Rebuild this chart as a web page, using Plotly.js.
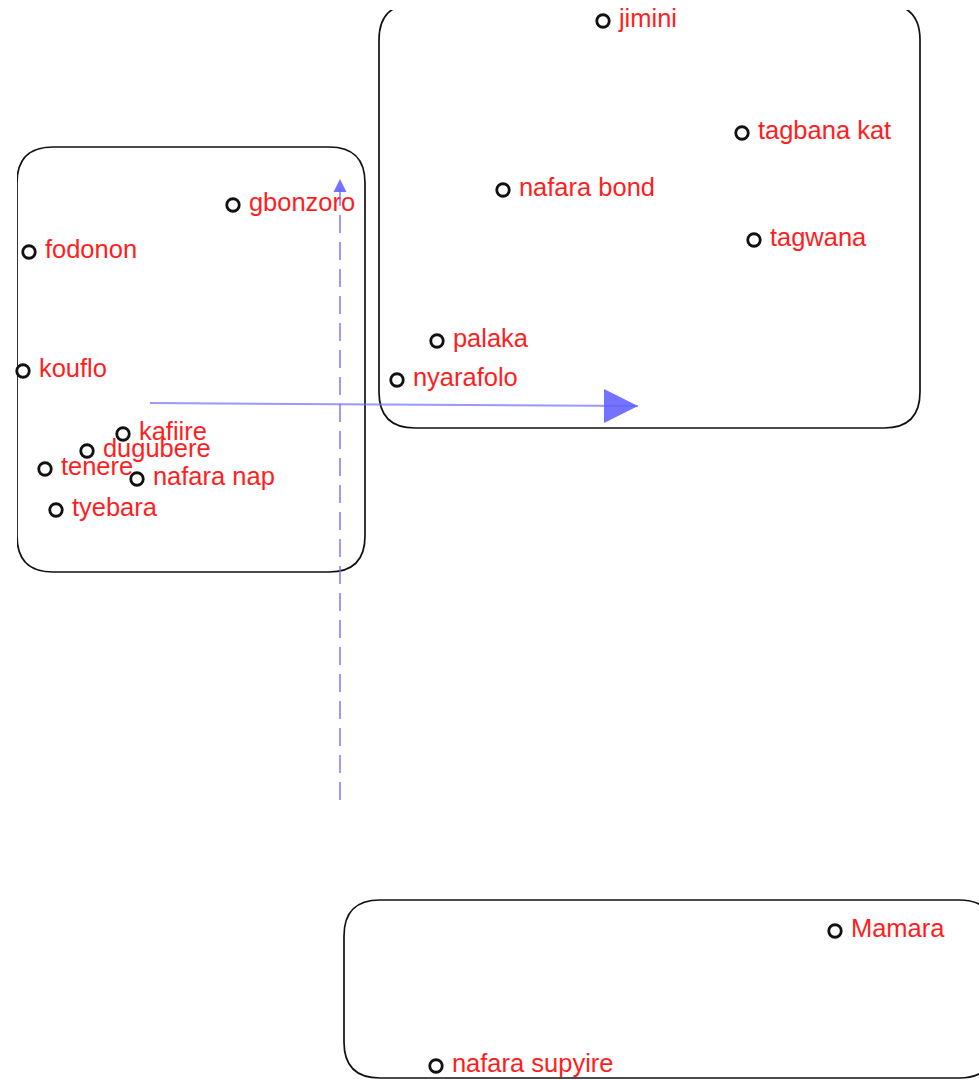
<!DOCTYPE html>
<html>
<head>
<meta charset="utf-8">
<script src="https://cdn.plot.ly/plotly-3.0.1.min.js"></script>
<style>
  body { margin: 0; background: #fff; }
  #chart { width: 979px; height: 1080px; }
</style>
</head>
<body>
<div id="chart"></div>
<script>
// point labels and positions
var names = ['jimini', 'tagbana kat', 'nafara bond', 'tagwana', 'palaka', 'nyarafolo',
  'gbonzoro', 'fodonon', 'kouflo', 'kafiire', 'dugubere', 'tenere', 'nafara nap', 'tyebara',
  'Mamara', 'nafara supyire'];
var xs = [603, 742, 503, 754, 437, 397, 233, 29, 23, 123, 87, 45, 137, 56, 835, 436];
var ys = [21, 133, 190, 240, 341, 380, 205, 252, 371, 434, 451, 469, 479, 510, 931, 1066];

// the two blue axis arrows
var axis1_x = [150, 638];
var axis1_y = [403, 406];
var axis2_x = [340, 340];
var axis2_y = [800, 179];

// group boxes [x0, y0, x1, y1]
var groups = [
  [17, 147, 365, 572],
  [379, 4, 920, 428],
  [344, 900, 995, 1078]
];

var blueLine = 'rgba(110,110,255,0.7)';
var blueHead = 'rgba(100,100,255,0.9)';

var roundBox = function(b, r) {
  var x0 = b[0], y0 = b[1], x1 = b[2], y1 = b[3];
  return 'M' + (x0 + r) + ',' + y0 +
    ' L' + (x1 - r) + ',' + y0 +
    ' Q' + x1 + ',' + y0 + ' ' + x1 + ',' + (y0 + r) +
    ' L' + x1 + ',' + (y1 - r) +
    ' Q' + x1 + ',' + y1 + ' ' + (x1 - r) + ',' + y1 +
    ' L' + (x0 + r) + ',' + y1 +
    ' Q' + x0 + ',' + y1 + ' ' + x0 + ',' + (y1 - r) +
    ' L' + x0 + ',' + (y0 + r) +
    ' Q' + x0 + ',' + y0 + ' ' + (x0 + r) + ',' + y0 + ' Z';
};

var shapes = groups.map(function(g) {
  return {
    type: 'path',
    xref: 'x', yref: 'y',
    path: roundBox(g, 36),
    line: { color: '#111', width: 1.7 },
    fillcolor: 'rgba(0,0,0,0)',
    layer: 'below'
  };
});

var axisLine1 = {
  x: axis1_x, y: axis1_y,
  mode: 'lines',
  line: { color: blueLine, width: 2 },
  hoverinfo: 'skip'
};
var axisHead1 = {
  x: [axis1_x[1]], y: [axis1_y[1]],
  mode: 'markers',
  marker: { symbol: 'arrow-right', size: 34, color: blueHead },
  hoverinfo: 'skip'
};
var axisLine2 = {
  x: axis2_x, y: axis2_y,
  mode: 'lines',
  line: { color: blueLine, width: 2, dash: '18px,9px' },
  hoverinfo: 'skip'
};
var axisHead2 = {
  x: [axis2_x[1]], y: [axis2_y[1]],
  mode: 'markers',
  marker: { symbol: 'arrow-up', size: 13, color: blueHead },
  hoverinfo: 'skip'
};

var points = {
  x: xs, y: ys,
  text: names,
  texttemplate: ' %{text}',
  mode: 'markers+text',
  textposition: 'middle right',
  cliponaxis: false,
  textfont: { family: 'Liberation Sans, Arial, sans-serif', size: 25.5, color: 'rgb(255,30,30)' },
  marker: { symbol: 'circle-open', size: 12.5, color: '#111', line: { width: 2.8 } },
  hoverinfo: 'text'
};

var layout = {
  width: 979,
  height: 1080,
  margin: { l: 17, r: 0, t: 10, b: 0 },
  showlegend: false,
  paper_bgcolor: '#ffffff',
  plot_bgcolor: '#ffffff',
  xaxis: { range: [17, 979], visible: false, fixedrange: true },
  yaxis: { range: [1080, 10], visible: false, fixedrange: true },
  shapes: shapes
};

var data = [axisLine1, axisHead1, axisLine2, axisHead2, points];
Plotly.newPlot('chart', data, layout, { displayModeBar: false, staticPlot: true });
</script>
</body>
</html>
